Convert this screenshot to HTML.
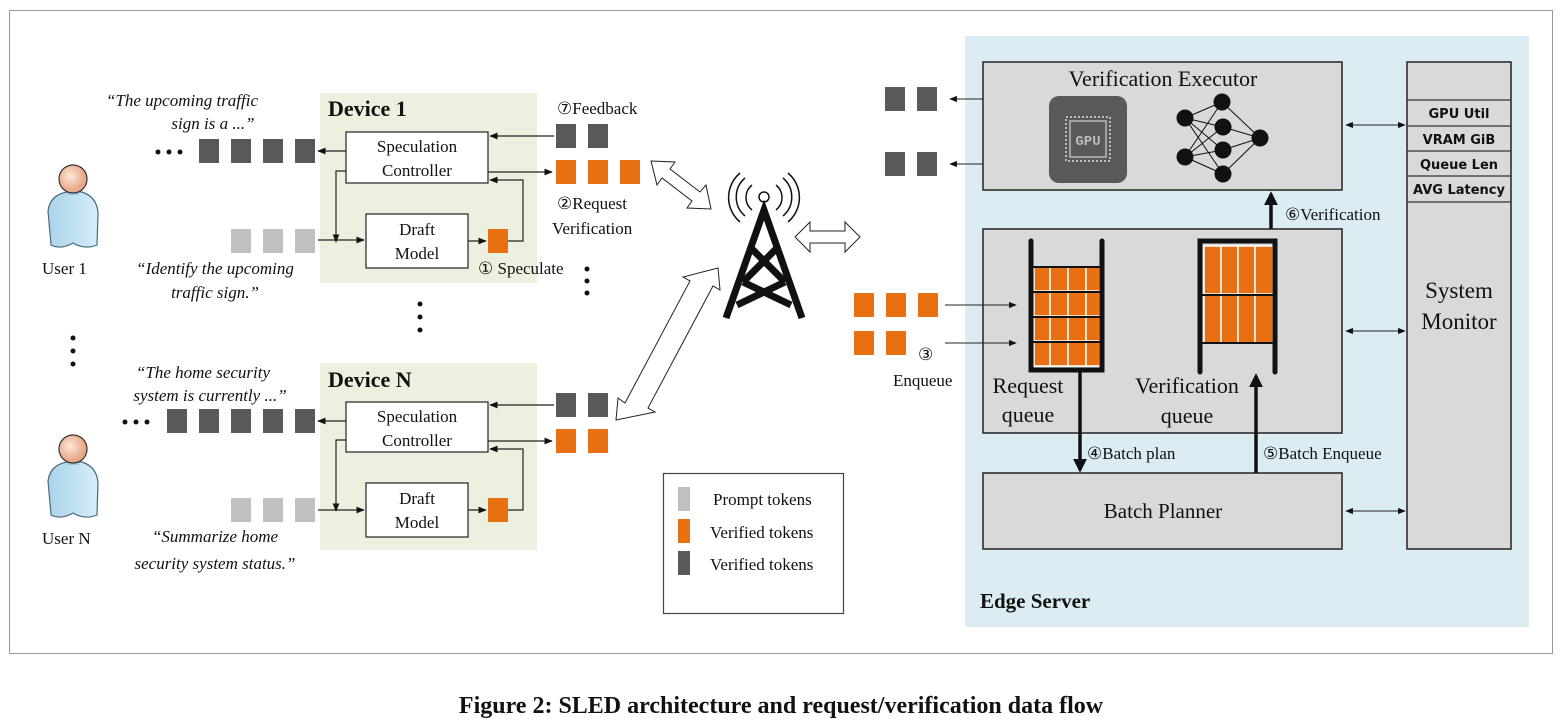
<!DOCTYPE html>
<html><head><meta charset="utf-8"><style>
html,body{margin:0;padding:0;background:#fff;width:1562px;height:724px;overflow:hidden}
svg{display:block}
.s{font-family:"Liberation Serif",serif;fill:#111}
.i{font-family:"Liberation Serif",serif;font-style:italic;fill:#111}
.m{font-family:"DejaVu Sans","Liberation Sans",sans-serif;font-weight:bold;fill:#111}
</style></head><body>
<svg width="1562" height="724" viewBox="0 0 1562 724" xmlns="http://www.w3.org/2000/svg">
<defs>
<marker id="a" viewBox="0 0 10 10" refX="9" refY="5" markerWidth="7" markerHeight="7" orient="auto-start-reverse"><path d="M0,1 L10,5 L0,9 z" fill="#111"/></marker>
<marker id="b" viewBox="0 0 10 10" refX="8" refY="5" markerWidth="4" markerHeight="4" orient="auto"><path d="M0,0 L10,5 L0,10 z" fill="#111"/></marker>
<linearGradient id="body" x1="0" x2="1"><stop offset="0" stop-color="#a9d3ea"/><stop offset="1" stop-color="#d6eef8"/></linearGradient>
<radialGradient id="head" cx="0.4" cy="0.4"><stop offset="0" stop-color="#fde9dc"/><stop offset="1" stop-color="#e8a988"/></radialGradient>
<g id="user">
<path d="M-22,66 L-25,32 Q-23,16 -6,13 L9,13 Q24,18 25,34 L24,66 Q12,71 0,64 Q-12,71 -22,66 z" fill="url(#body)" stroke="#4a6a80" stroke-width="1.2"/>
<rect x="-6" y="8" width="12" height="8" fill="#9cc8e0"/>
<circle cx="0" cy="0" r="14" fill="url(#head)" stroke="#333" stroke-width="1.2"/>
</g>
</defs>
<rect x="9.5" y="10.5" width="1543" height="643" fill="#fff" stroke="#999" stroke-width="1"/>

<rect x="320" y="93" width="217" height="190" fill="#ebf1de"/>
<rect x="320" y="363" width="217" height="187" fill="#ebf1de"/>
<text x="328" y="116" class="s" font-size="22" font-weight="bold">Device 1</text>
<text x="328" y="387" class="s" font-size="22" font-weight="bold">Device N</text>

<use href="#user" x="73" y="179"/>
<use href="#user" x="73" y="449"/>
<text x="42" y="274" class="s" font-size="17">User 1</text>
<text x="42" y="544" class="s" font-size="17">User N</text>
<g fill="#111"><circle cx="73" cy="338" r="2.5"/><circle cx="73" cy="351" r="2.5"/><circle cx="73" cy="364" r="2.5"/>
<circle cx="420" cy="304" r="2.5"/><circle cx="420" cy="317" r="2.5"/><circle cx="420" cy="330" r="2.5"/>
<circle cx="587" cy="269" r="2.5"/><circle cx="587" cy="281" r="2.5"/><circle cx="587" cy="293" r="2.5"/>
<circle cx="158" cy="152" r="2.5"/><circle cx="169" cy="152" r="2.5"/><circle cx="180" cy="152" r="2.5"/>
<circle cx="125" cy="422" r="2.5"/><circle cx="136" cy="422" r="2.5"/><circle cx="147" cy="422" r="2.5"/></g>

<text x="182" y="106" class="i" font-size="17" text-anchor="middle">“The upcoming traffic</text>
<text x="213" y="129" class="i" font-size="17" text-anchor="middle">sign is a ...”</text>
<text x="215" y="274" class="i" font-size="17" text-anchor="middle">“Identify the upcoming</text>
<text x="215" y="298" class="i" font-size="17" text-anchor="middle">traffic sign.”</text>
<text x="203" y="378" class="i" font-size="17" text-anchor="middle">“The home security</text>
<text x="210" y="401" class="i" font-size="17" text-anchor="middle">system is currently ...”</text>
<text x="215" y="542" class="i" font-size="17" text-anchor="middle">“Summarize home</text>
<text x="215" y="569" class="i" font-size="17" text-anchor="middle">security system status.”</text>

<g fill="#595959">
<rect x="199" y="139" width="20" height="24"/><rect x="231" y="139" width="20" height="24"/><rect x="263" y="139" width="20" height="24"/><rect x="295" y="139" width="20" height="24"/>
<rect x="556" y="124" width="20" height="24"/><rect x="588" y="124" width="20" height="24"/>
<rect x="167" y="409" width="20" height="24"/><rect x="199" y="409" width="20" height="24"/><rect x="231" y="409" width="20" height="24"/><rect x="263" y="409" width="20" height="24"/><rect x="295" y="409" width="20" height="24"/>
<rect x="556" y="393" width="20" height="24"/><rect x="588" y="393" width="20" height="24"/>
<rect x="885" y="87" width="20" height="24"/><rect x="917" y="87" width="20" height="24"/>
<rect x="885" y="152" width="20" height="24"/><rect x="917" y="152" width="20" height="24"/>
</g>
<g fill="#c0c0c0">
<rect x="231" y="229" width="20" height="24"/><rect x="263" y="229" width="20" height="24"/><rect x="295" y="229" width="20" height="24"/>
<rect x="231" y="498" width="20" height="24"/><rect x="263" y="498" width="20" height="24"/><rect x="295" y="498" width="20" height="24"/>
</g>
<g fill="#e97012">
<rect x="488" y="229" width="20" height="24"/><rect x="488" y="498" width="20" height="24"/>
<rect x="556" y="160" width="20" height="24"/><rect x="588" y="160" width="20" height="24"/><rect x="620" y="160" width="20" height="24"/>
<rect x="556" y="429" width="20" height="24"/><rect x="588" y="429" width="20" height="24"/>
<rect x="854" y="293" width="20" height="24"/><rect x="886" y="293" width="20" height="24"/><rect x="918" y="293" width="20" height="24"/>
<rect x="854" y="331" width="20" height="24"/><rect x="886" y="331" width="20" height="24"/>
</g>

<g fill="#fff" stroke="#222" stroke-width="1.2">
<rect x="346" y="132" width="142" height="51"/><rect x="366" y="214" width="102" height="54"/>
<rect x="346" y="402" width="142" height="50"/><rect x="366" y="483" width="102" height="54"/>
</g>
<g class="s" font-size="17" text-anchor="middle">
<text x="417" y="152">Speculation</text><text x="417" y="176">Controller</text>
<text x="417" y="235">Draft</text><text x="417" y="259">Model</text>
<text x="417" y="422">Speculation</text><text x="417" y="446">Controller</text>
<text x="417" y="504">Draft</text><text x="417" y="528">Model</text>
</g>
<g stroke="#222" stroke-width="1.2" fill="none" marker-end="url(#a)">
<path d="M346,151 L318,151"/><path d="M554,136 L490,136"/><path d="M488,172 L552,172"/>
<path d="M508,241 L523,241 L523,180 L490,180"/><path d="M346,171 L336,171 L336,242"/>
<path d="M318,240 L364,240"/><path d="M468,241 L486,241"/>
<path d="M346,421 L318,421"/><path d="M554,405 L490,405"/><path d="M488,441 L552,441"/>
<path d="M508,510 L523,510 L523,449 L490,449"/><path d="M346,440 L336,440 L336,511"/>
<path d="M318,510 L364,510"/><path d="M468,510 L486,510"/>
</g>
<text x="557" y="114" class="s" font-size="17">⑦Feedback</text>
<text x="557" y="209" class="s" font-size="17">②Request</text>
<text x="552" y="234" class="s" font-size="17">Verification</text>
<text x="478" y="274" class="s" font-size="17">① Speculate</text>

<g fill="#fff" stroke="#222" stroke-width="1">
<path d="M651,161 L675,162 L670,169 L700,192 L706,185 L711,209 L687,208 L692,201 L662,178 L657,185 z"/>
<path d="M795,237 L810,222 L810,231 L845,231 L845,222 L860,237 L845,252 L845,243 L810,243 L810,252 z"/>
<path d="M616,420 L618,398 L625,403 L690,281 L683,277 L718,268 L720,290 L713,286 L648,408 L655,412 z"/>
</g>

<g stroke="#111" fill="none" stroke-width="7" stroke-linejoin="miter">
<path d="M726,318 L764,210 L802,318"/>
<path d="M750,247 L785,282 M778,247 L743,282 M743,282 L791,305 M785,282 L737,305"/>
</g>
<g stroke="#111" fill="none" stroke-width="1.5">
<circle cx="764" cy="197" r="5"/>
<path d="M752,185 A16,16 0 0 0 752,210 M776,185 A16,16 0 0 1 776,210"/>
<path d="M745,178 A25,25 0 0 0 745,216 M783,178 A25,25 0 0 1 783,216"/>
<path d="M740,173 A32,32 0 0 0 740,222 M788,173 A32,32 0 0 1 788,222"/>
</g>

<rect x="663.5" y="473.5" width="180" height="140" fill="#fff" stroke="#444" stroke-width="1.2"/>
<rect x="678" y="487" width="12" height="24" fill="#c0c0c0"/>
<rect x="678" y="519" width="12" height="24" fill="#e97012"/>
<rect x="678" y="551" width="12" height="24" fill="#595959"/>
<text x="713" y="505" class="s" font-size="17">Prompt tokens</text>
<text x="710" y="538" class="s" font-size="17">Verified tokens</text>
<text x="710" y="570" class="s" font-size="17">Verified tokens</text>

<rect x="965" y="36" width="564" height="591" fill="#dbedf3"/>
<text x="980" y="608" class="s" font-size="21" font-weight="bold">Edge Server</text>
<g fill="#d9d9d9" stroke="#222" stroke-width="1.5">
<rect x="983" y="62" width="359" height="128"/>
<rect x="983" y="229" width="359" height="204"/>
<rect x="983" y="473" width="359" height="76"/>
<rect x="1407" y="62" width="104" height="487"/>
</g>
<g stroke="#333" stroke-width="1.2"><line x1="1407" y1="100" x2="1511" y2="100"/><line x1="1407" y1="126" x2="1511" y2="126"/><line x1="1407" y1="151" x2="1511" y2="151"/><line x1="1407" y1="176" x2="1511" y2="176"/><line x1="1407" y1="202" x2="1511" y2="202"/></g>
<g class="m" font-size="13" text-anchor="middle">
<text x="1459" y="118">GPU Util</text><text x="1459" y="144">VRAM GiB</text><text x="1459" y="169">Queue Len</text><text x="1459" y="194">AVG Latency</text></g>
<text x="1459" y="298" class="s" font-size="23" text-anchor="middle">System</text>
<text x="1459" y="329" class="s" font-size="23" text-anchor="middle">Monitor</text>
<text x="1163" y="86" class="s" font-size="22" text-anchor="middle">Verification Executor</text>
<text x="1163" y="518" class="s" font-size="21" text-anchor="middle">Batch Planner</text>

<rect x="1049" y="96" width="78" height="87" rx="10" fill="#595959"/>
<rect x="1066" y="117" width="44" height="44" fill="none" stroke="#bbb" stroke-width="2" stroke-dasharray="2 2"/>
<rect x="1070" y="121" width="36" height="36" fill="none" stroke="#bbb" stroke-width="1.5"/>
<text x="1088" y="145" font-family="Liberation Mono,monospace" font-size="14" font-weight="bold" fill="#bbb" text-anchor="middle">GPU</text>
<g stroke="#111" stroke-width="1">
<path d="M1185,118 L1222,102 M1185,118 L1223,127 M1185,118 L1223,150 M1185,118 L1223,174 M1185,157 L1222,102 M1185,157 L1223,127 M1185,157 L1223,150 M1185,157 L1223,174 M1222,102 L1260,138 M1223,127 L1260,138 M1223,150 L1260,138 M1223,174 L1260,138"/>
</g>
<g fill="#111"><circle cx="1185" cy="118" r="8.5"/><circle cx="1185" cy="157" r="8.5"/><circle cx="1222" cy="102" r="8.5"/><circle cx="1223" cy="127" r="8.5"/><circle cx="1223" cy="150" r="8.5"/><circle cx="1223" cy="174" r="8.5"/><circle cx="1260" cy="138" r="8.5"/></g>

<g fill="#e97012" stroke="#fff" stroke-width="1.5">
<rect x="1034" y="267" width="16" height="24"/><rect x="1050" y="267" width="18" height="24"/><rect x="1068" y="267" width="18" height="24"/><rect x="1086" y="267" width="14" height="24"/>
<rect x="1034" y="292" width="16" height="24"/><rect x="1050" y="292" width="18" height="24"/><rect x="1068" y="292" width="18" height="24"/><rect x="1086" y="292" width="14" height="24"/>
<rect x="1034" y="317" width="16" height="24"/><rect x="1050" y="317" width="18" height="24"/><rect x="1068" y="317" width="18" height="24"/><rect x="1086" y="317" width="14" height="24"/>
<rect x="1034" y="342" width="16" height="24"/><rect x="1050" y="342" width="18" height="24"/><rect x="1068" y="342" width="18" height="24"/><rect x="1086" y="342" width="14" height="24"/>
<rect x="1204" y="246" width="17" height="48"/><rect x="1221" y="246" width="17" height="48"/><rect x="1238" y="246" width="17" height="48"/><rect x="1255" y="246" width="18" height="48"/>
<rect x="1204" y="295" width="17" height="48"/><rect x="1221" y="295" width="17" height="48"/><rect x="1238" y="295" width="17" height="48"/><rect x="1255" y="295" width="18" height="48"/>
</g>
<g stroke="#111" stroke-width="2"><line x1="1032" y1="267" x2="1101" y2="267"/><line x1="1032" y1="292" x2="1101" y2="292"/><line x1="1032" y1="317" x2="1101" y2="317"/><line x1="1032" y1="342" x2="1101" y2="342"/>
<line x1="1202" y1="295" x2="1274" y2="295"/><line x1="1202" y1="343" x2="1274" y2="343"/></g>
<g stroke="#111" stroke-width="5" fill="none" stroke-linecap="round">
<path d="M1031,241 L1031,370 L1102,370 L1102,241"/>
<path d="M1200,372 L1200,241 L1275,241 L1275,372"/>
</g>
<text x="1028" y="393" class="s" font-size="22" text-anchor="middle">Request</text>
<text x="1028" y="422" class="s" font-size="22" text-anchor="middle">queue</text>
<text x="1187" y="393" class="s" font-size="22" text-anchor="middle">Verification</text>
<text x="1187" y="423" class="s" font-size="22" text-anchor="middle">queue</text>

<g stroke="#111" stroke-width="3.5" marker-end="url(#b)">
<line x1="1271" y1="229" x2="1271" y2="194"/>
<line x1="1080" y1="372" x2="1080" y2="470"/>
<line x1="1256" y1="473" x2="1256" y2="376"/>
</g>
<text x="1285" y="220" class="s" font-size="17">⑥Verification</text>
<text x="1087" y="459" class="s" font-size="17">④Batch plan</text>
<text x="1263" y="459" class="s" font-size="17">⑤Batch Enqueue</text>

<g stroke="#222" stroke-width="1.1" fill="none">
<path d="M983,99 L950,99" marker-end="url(#a)"/><path d="M983,164 L950,164" marker-end="url(#a)"/>
<path d="M945,305 L1016,305" marker-end="url(#a)"/><path d="M945,343 L1016,343" marker-end="url(#a)"/>
<path d="M1346,125 L1405,125" marker-start="url(#a)" marker-end="url(#a)"/>
<path d="M1346,331 L1405,331" marker-start="url(#a)" marker-end="url(#a)"/>
<path d="M1346,511 L1405,511" marker-start="url(#a)" marker-end="url(#a)"/>
</g>
<text x="918" y="360" class="s" font-size="17">③</text>
<text x="893" y="386" class="s" font-size="17">Enqueue</text>

<text x="781" y="713" class="s" font-size="24" font-weight="bold" text-anchor="middle">Figure 2: SLED architecture and request/verification data flow</text>
</svg>
</body></html>
